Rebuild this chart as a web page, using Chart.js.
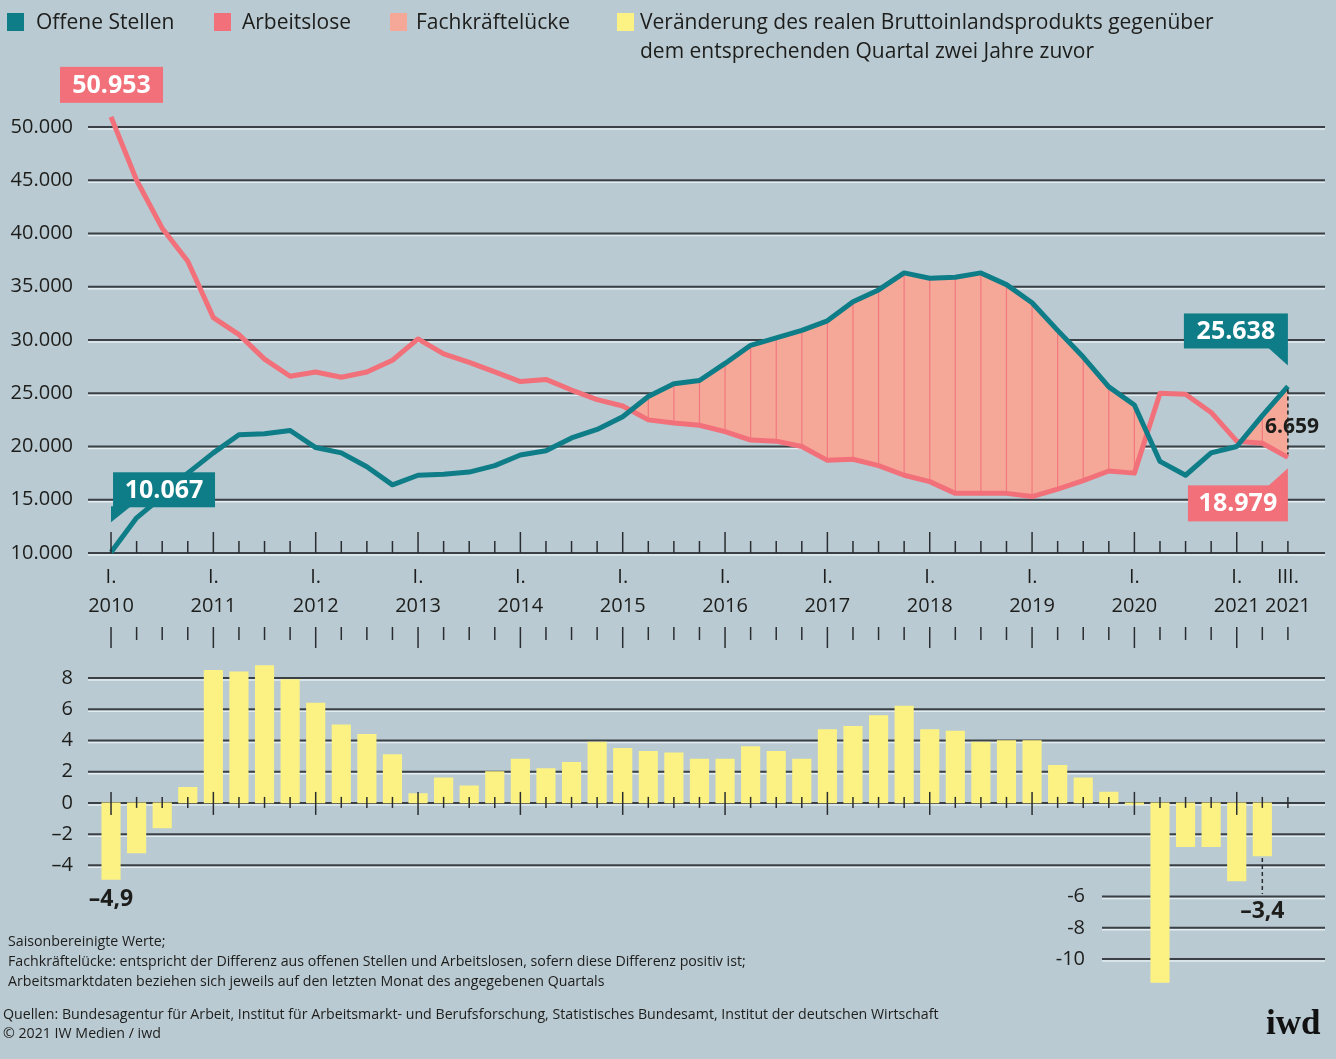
<!DOCTYPE html>
<html lang="de">
<head>
<meta charset="utf-8">
<script src="https://cdn.jsdelivr.net/npm/chart.js@4.4.0/dist/chart.umd.min.js"></script>
<style>
  html, body { margin: 0; padding: 0; }
  body { width: 1336px; height: 1059px; background: #b9cad2; position: relative; overflow: hidden;
         font-family: "Open Sans", "Noto Sans", sans-serif; color: #1d1d1b; }
  .box { position: absolute; left: 0; width: 1336px; }
  #topBox { top: 0; height: 660px; }
  #bottomBox { top: 660px; height: 399px; }
  .leg { position: absolute; top: 7px; font-size: 21px; line-height: 29px; white-space: nowrap; }
  .leg i { position: absolute; top: 6px; width: 17px; height: 18px; }
  .note { position: absolute; left: 8px; font-size: 14.2px; line-height: 20px; white-space: nowrap; }
  .logo { position: absolute; left: 1266px; top: 1003px; font: bold 35px "Liberation Serif", serif; color: #111; }
</style>
</head>
<body>
<div class="box" id="topBox"><canvas id="topChart"></canvas></div>
<div class="box" id="bottomBox"><canvas id="bottomChart"></canvas></div>

<div class="leg" style="left:36px"><i style="left:-29px;background:#0f7d87"></i>Offene Stellen</div>
<div class="leg" style="left:242px"><i style="left:-28px;background:#f1707a"></i>Arbeitslose</div>
<div class="leg" style="left:416px"><i style="left:-26px;background:#f5a898"></i>Fachkräftelücke</div>
<div class="leg" style="left:640px"><i style="left:-23px;background:#fcf283"></i>Veränderung des realen Bruttoinlandsprodukts gegenüber<br>dem entsprechenden Quartal zwei Jahre zuvor</div>

<div class="note" style="top:931px">Saisonbereinigte Werte;</div>
<div class="note" style="top:951px">Fachkräftelücke: entspricht der Differenz aus offenen Stellen und Arbeitslosen, sofern diese Differenz positiv ist;</div>
<div class="note" style="top:971px">Arbeitsmarktdaten beziehen sich jeweils auf den letzten Monat des angegebenen Quartals</div>
<div class="note" style="top:1004px;left:3px">Quellen: Bundesagentur für Arbeit, Institut für Arbeitsmarkt- und Berufsforschung, Statistisches Bundesamt, Institut der deutschen Wirtschaft</div>
<div class="note" style="top:1023px;left:3px">© 2021 IW Medien / iwd</div>
<div class="logo">iwd</div>

<script>
const quarters = [
  "I.2010", "II.2010", "III.2010", "IV.2010",
  "I.2011", "II.2011", "III.2011", "IV.2011",
  "I.2012", "II.2012", "III.2012", "IV.2012",
  "I.2013", "II.2013", "III.2013", "IV.2013",
  "I.2014", "II.2014", "III.2014", "IV.2014",
  "I.2015", "II.2015", "III.2015", "IV.2015",
  "I.2016", "II.2016", "III.2016", "IV.2016",
  "I.2017", "II.2017", "III.2017", "IV.2017",
  "I.2018", "II.2018", "III.2018", "IV.2018",
  "I.2019", "II.2019", "III.2019", "IV.2019",
  "I.2020", "II.2020", "III.2020", "IV.2020",
  "I.2021", "II.2021", "III.2021"
];

// Offene Stellen / Arbeitslose, quarterly
const offeneStellen = [
  10067, 13300, 15300, 17500, 19400, 21100, 21200, 21500, 19900, 19400,
  18100, 16400, 17300, 17400, 17600, 18200, 19200, 19600, 20800, 21600,
  22800, 24700, 25900, 26200, 27800, 29500, 30200, 30900, 31800, 33600,
  34700, 36300, 35800, 35900, 36300, 35200, 33500, 30900, 28400, 25600,
  23900, 18600, 17300, 19400, 20000, 22900, 25638
];
const arbeitslose = [
  50953, 45000, 40500, 37400, 32100, 30500, 28200, 26600, 27000, 26500,
  27000, 28100, 30100, 28700, 27900, 27000, 26100, 26300, 25300, 24400,
  23800, 22500, 22200, 22000, 21400, 20600, 20500, 20000, 18700, 18800,
  18200, 17300, 16700, 15600, 15600, 15600, 15300, 16000, 16800, 17700,
  17500, 25000, 24900, 23200, 20500, 20300, 18979
];
// BIP-Veränderung ggü. Quartal zwei Jahre zuvor, in Prozent
const bipVeraenderung = [
  -4.9, -3.2, -1.6, 1.0, 8.5, 8.4, 8.8, 7.9, 6.4, 5.0,
  4.4, 3.1, 0.6, 1.6, 1.1, 2.0, 2.8, 2.2, 2.6, 3.9,
  3.5, 3.3, 3.2, 2.8, 2.8, 3.6, 3.3, 2.8, 4.7, 4.9,
  5.6, 6.2, 4.7, 4.6, 3.9, 4.0, 4.0, 2.4, 1.6, 0.7,
  -0.1, -11.5, -2.8, -2.8, -5.0, -3.4, null
];
const yTicksTop = [10000, 15000, 20000, 25000, 30000, 35000, 40000, 45000, 50000];
const yTicksBar = [8, 6, 4, 2, 0, -2, -4, -6, -8, -10];

const TEAL = "#0f7d87";
const RED = "#f1707a";
const GAP = "#f5a898";
const YELLOW = "#fcf283";
const INK = "#1d1d1b";
const FONT = "'Open Sans'";

const fmt = v => String(v).replace(/\B(?=(\d{3})+(?!\d))/g, ".");
const fmtComma = v => "\u2013" + Math.abs(v).toFixed(1).replace(".", ",");
const isYearStart = i => quarters[i].startsWith("I.");
const last = quarters.length - 1;

function gridLine(ctx, x0, x1, y) {
  ctx.save();
  ctx.strokeStyle = "rgba(232,240,243,0.9)";
  ctx.lineWidth = 1.5;
  ctx.beginPath(); ctx.moveTo(x0, y + 2); ctx.lineTo(x1, y + 2); ctx.stroke();
  ctx.strokeStyle = "#3a4045";
  ctx.lineWidth = 2;
  ctx.beginPath(); ctx.moveTo(x0, y); ctx.lineTo(x1, y); ctx.stroke();
  ctx.restore();
}

function vTick(ctx, x, y0, y1) {
  ctx.beginPath(); ctx.moveTo(x, y0); ctx.lineTo(x, y1); ctx.stroke();
}

// value box with an optional little pointer
function valueBox(ctx, text, left, top, w, h, color, pointer) {
  ctx.save();
  ctx.fillStyle = color;
  ctx.fillRect(left, top, w, h);
  if (pointer) {
    ctx.beginPath();
    ctx.moveTo(pointer[0][0], pointer[0][1]);
    ctx.lineTo(pointer[1][0], pointer[1][1]);
    ctx.lineTo(pointer[2][0], pointer[2][1]);
    ctx.closePath();
    ctx.fill();
  }
  ctx.fillStyle = "#fff";
  ctx.font = "bold 25px " + FONT;
  ctx.textAlign = "center";
  ctx.textBaseline = "middle";
  ctx.fillText(text, left + w / 2, top + h / 2 + 1);
  ctx.restore();
}

const topDecor = {
  id: "topDecor",
  beforeDraw(chart) {
    const { ctx, chartArea: a, scales: { y } } = chart;
    yTicksTop.forEach(v => gridLine(ctx, a.left, a.right, y.getPixelForValue(v)));
  },
  beforeDatasetsDraw(chart) {
    // thin hatch lines inside the gap (filler already drawn)
    const { ctx, scales: { x, y } } = chart;
    ctx.save();
    ctx.strokeStyle = "rgba(241,112,122,0.85)";
    ctx.lineWidth = 1.2;
    for (let i = 0; i < last; i++) {
      if (offeneStellen[i] > arbeitslose[i]) {
        vTick(ctx, x.getPixelForValue(i), y.getPixelForValue(offeneStellen[i]), y.getPixelForValue(arbeitslose[i]));
      }
    }
    ctx.restore();
  },
  afterDatasetsDraw(chart) {
    const { ctx, chartArea: a, scales: { x, y } } = chart;
    ctx.save();
    ctx.strokeStyle = "#2a2d30";
    ctx.lineWidth = 1.5;
    quarters.forEach((q, i) => {
      const px = x.getPixelForValue(i);
      const big = isYearStart(i);
      vTick(ctx, px, a.bottom, a.bottom - (big ? 21 : 12));
      vTick(ctx, px, a.bottom + 74, a.bottom + (big ? 95 : 87));
    });

    // gap at the last quarter
    const lx = x.getPixelForValue(last);
    const ty = y.getPixelForValue(offeneStellen[last]);
    const ry = y.getPixelForValue(arbeitslose[last]);
    ctx.strokeStyle = "#1d1d1b";
    ctx.lineWidth = 1.5;
    ctx.setLineDash([4, 3]);
    vTick(ctx, lx, ty + 3, ry - 3);
    ctx.setLineDash([]);
    ctx.fillStyle = INK;
    ctx.font = "bold 21px " + FONT;
    ctx.textAlign = "left";
    ctx.textBaseline = "middle";
    ctx.fillText(fmt(offeneStellen[last] - arbeitslose[last]), 1265, (ty + ry) / 2 + 5);
    ctx.restore();

    // first values
    const fx = x.getPixelForValue(0);
    const fr = y.getPixelForValue(arbeitslose[0]);
    valueBox(ctx, fmt(arbeitslose[0]), fx - 51, fr - 50, 103, 36, RED);
    const ft = y.getPixelForValue(offeneStellen[0]);
    valueBox(ctx, fmt(offeneStellen[0]), fx + 2, ft - 80, 102, 35, TEAL,
      [[fx, ft - 46], [fx + 20, ft - 46], [fx, ft - 30]]);
    // last values
    valueBox(ctx, fmt(offeneStellen[last]), lx - 104, ty - 73, 104, 35, TEAL,
      [[lx - 20, ty - 39], [lx, ty - 39], [lx, ty - 21]]);
    valueBox(ctx, fmt(arbeitslose[last]), lx - 100, ry + 28, 100, 36, RED,
      [[lx - 20, ry + 29], [lx, ry + 29], [lx, ry + 11]]);
  }
};

const barDecor = {
  id: "barDecor",
  beforeDatasetsDraw(chart) {
    const { ctx, chartArea: a, scales: { y } } = chart;
    yTicksBar.forEach(v => gridLine(ctx, v >= -4 ? a.left : 1102, a.right, y.getPixelForValue(v)));
    ctx.save();
    ctx.fillStyle = INK;
    ctx.font = "20px " + FONT;
    ctx.textAlign = "right";
    ctx.textBaseline = "middle";
    yTicksBar.filter(v => v <= -6).forEach(v => ctx.fillText(String(v), 1085, y.getPixelForValue(v)));
    ctx.restore();
  },
  afterDatasetsDraw(chart) {
    const { ctx, scales: { x, y } } = chart;
    const zero = y.getPixelForValue(0);
    ctx.save();
    ctx.strokeStyle = "#2a2d30";
    ctx.lineWidth = 1.5;
    quarters.forEach((q, i) => {
      const px = x.getPixelForValue(i);
      if (isYearStart(i)) vTick(ctx, px, zero - 11, zero + 12);
      else vTick(ctx, px, zero - 6, zero + 5);
    });

    ctx.fillStyle = INK;
    ctx.font = "bold 23px " + FONT;
    ctx.textAlign = "center";
    ctx.textBaseline = "middle";
    const b0 = y.getPixelForValue(bipVeraenderung[0]);
    ctx.fillText(fmtComma(bipVeraenderung[0]), x.getPixelForValue(0), b0 + 20);

    const li = last - 1;
    const bx = x.getPixelForValue(li);
    const by = y.getPixelForValue(bipVeraenderung[li]);
    ctx.setLineDash([4, 3]);
    vTick(ctx, bx, by + 2, by + 38);
    ctx.setLineDash([]);
    ctx.fillText(fmtComma(bipVeraenderung[li]), bx, by + 55);
    ctx.restore();
  }
};

Chart.defaults.font.family = FONT;
Chart.defaults.color = INK;

new Chart(document.getElementById("topChart"), {
  type: "line",
  data: {
    datasets: [
      {
        label: "Offene Stellen",
        data: offeneStellen.map((v, i) => ({ x: i, y: v })),
        borderColor: TEAL,
        borderWidth: 5,
        pointRadius: 0,
        tension: 0,
        clip: false,
        borderJoinStyle: "round",
        fill: { target: 1, above: GAP, below: "rgba(0,0,0,0)" }
      },
      {
        label: "Arbeitslose",
        data: arbeitslose.map((v, i) => ({ x: i, y: v })),
        borderColor: RED,
        borderWidth: 5,
        pointRadius: 0,
        tension: 0,
        clip: false,
        borderJoinStyle: "round",
        fill: false
      }
    ]
  },
  options: {
    responsive: true,
    maintainAspectRatio: false,
    animation: false,
    layout: { padding: { top: 127, right: 11, bottom: 12, left: 0 } },
    plugins: {
      legend: { display: false },
      tooltip: { enabled: false },
      filler: { drawTime: "beforeDatasetsDraw" }
    },
    scales: {
      x: {
        type: "linear",
        min: -0.9,
        max: 47.45,
        offset: false,
        grid: { display: false, drawTicks: false },
        border: { display: false },
        afterBuildTicks: s => {
          s.ticks = quarters.map((q, i) => ({ value: i })).filter(t => isYearStart(t.value) || t.value === last);
        },
        afterFit: s => { s.height = 95; },
        ticks: {
          autoSkip: false,
          maxRotation: 0,
          padding: 10,
          color: INK,
          font: { size: 20, lineHeight: 1.45 },
          callback: v => {
            const q = quarters[v];
            const p = q.indexOf(".");
            return [q.slice(0, p + 1), q.slice(p + 1)];
          }
        }
      },
      y: {
        min: 10000,
        max: 50000,
        grid: { display: false, drawTicks: false },
        border: { display: false },
        afterFit: s => { s.width = 88; },
        ticks: { stepSize: 5000, padding: 15, color: INK, font: { size: 20 }, callback: v => fmt(v) }
      }
    }
  },
  plugins: [topDecor]
});

new Chart(document.getElementById("bottomChart"), {
  type: "bar",
  data: {
    datasets: [{
      label: "Veränderung des realen Bruttoinlandsprodukts",
      data: bipVeraenderung.map((v, i) => ({ x: i, y: v })),
      backgroundColor: YELLOW,
      borderWidth: 0,
      barThickness: 18.5
    }]
  },
  options: {
    responsive: true,
    maintainAspectRatio: false,
    animation: false,
    layout: { padding: { top: 2.4, right: 11, bottom: 75, left: 0 } },
    plugins: { legend: { display: false }, tooltip: { enabled: false } },
    scales: {
      x: {
        type: "linear",
        min: -0.9,
        max: 47.45,
        offset: false,
        display: false,
        grid: { display: false }
      },
      y: {
        min: -11.6,
        max: 9,
        grid: { display: false, drawTicks: false },
        border: { display: false },
        afterFit: s => { s.width = 88; s.paddingTop = 0; s.paddingBottom = 0; },
        afterBuildTicks: s => { s.ticks = yTicksBar.map(v => ({ value: v })); },
        ticks: {
          padding: 15,
          color: INK,
          font: { size: 20 },
          callback: v => (v <= -6 ? "" : v < 0 ? "\u2013" + Math.abs(v) : String(v))
        }
      }
    }
  },
  plugins: [barDecor]
});
</script>
</body>
</html>
